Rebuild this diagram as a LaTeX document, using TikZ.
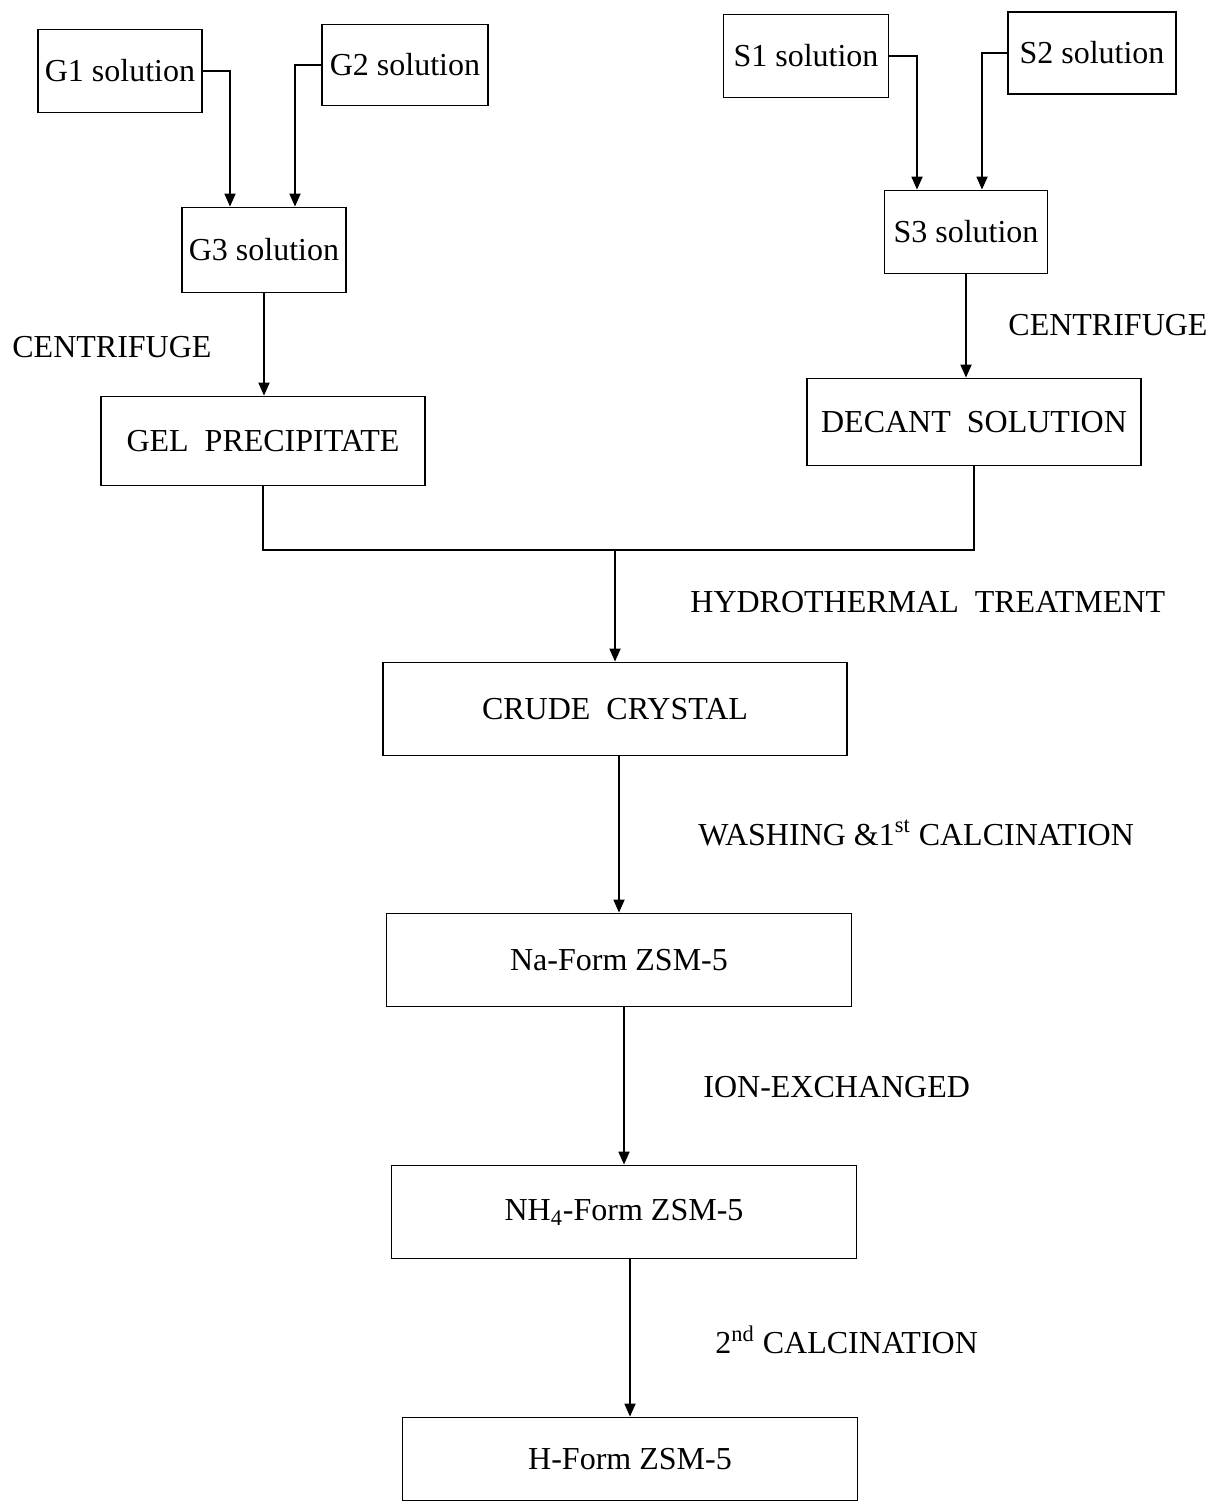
\documentclass[tikz,border=0pt]{standalone}
\usepackage{fontspec}
\setmainfont{Liberation Serif}
\usetikzlibrary{arrows.meta}

\tikzset{
  procbox/.style={draw, line width=0.9pt, inner sep=2pt, font=\fontsize{16}{19}\selectfont},
  steplabel/.style={anchor=west, inner sep=0pt, font=\fontsize{16}{19}\selectfont},
  flow/.style={line width=0.9pt, -{Triangle[length=6.5pt,width=5.5pt]}},
  link/.style={line width=0.9pt}
}

\begin{document}
\begin{tikzpicture}[x=0.5pt, y=-0.5pt]

\useasboundingbox (0,0) rectangle (1220,1503);

% Gel solutions
\node[procbox, minimum width=82pt, minimum height=41.5pt] (g1) at (120,71) {G1 solution};
\node[procbox, minimum width=83pt, minimum height=40.5pt] (g2) at (405,65) {G2 solution};
\node[procbox, minimum width=82pt, minimum height=42.5pt] (g3) at (264,250) {G3 solution};

% Seed solutions
\node[procbox, minimum width=82.5pt, minimum height=41.5pt] (s1) at (806,56) {S1 solution};
\node[procbox, minimum width=84pt, minimum height=41pt] (s2) at (1092,53) {S2 solution};
\node[procbox, minimum width=81.5pt, minimum height=41.5pt] (s3) at (966,232) {S3 solution};

% After centrifuge
\node[procbox, minimum width=162pt, minimum height=44.5pt] (gel) at (263,441) {GEL\ \ PRECIPITATE};
\node[procbox, minimum width=167pt, minimum height=43.5pt] (dec) at (974,422) {DECANT\ \ SOLUTION};

% Main line
\node[procbox, minimum width=232pt, minimum height=46.5pt] (crude) at (615,709) {CRUDE\ \ CRYSTAL};
\node[procbox, minimum width=232.5pt, minimum height=46.5pt] (na) at (619,960) {Na-Form ZSM-5};
\node[procbox, minimum width=232.5pt, minimum height=46.5pt] (nh) at (624,1212) {NH\textsubscript{4}-Form ZSM-5};
\node[procbox, minimum width=227.5pt, minimum height=41.5pt] (hf) at (630,1459) {H-Form ZSM-5};

% Mixing arrows
\draw[flow] (g1.east) -| ([xshift=-17pt]g3.north);
\draw[flow] (g2.west) -| ([xshift=15.5pt]g3.north);
\draw[flow] (s1.east) -| ([xshift=-24.5pt]s3.north);
\draw[flow] (s2.west) -| ([xshift=8pt]s3.north);

% Centrifuge
\draw[flow] (g3.south) -- (g3.south |- gel.north);
\draw[flow] (s3.south) -- (s3.south |- dec.north);

% Joining
\coordinate (join) at (615,550);
\draw[link] (gel.south) |- (join);
\draw[link] (dec.south) |- (join);
\draw[flow] (join) -- (crude.north);

% Following steps
\draw[flow] (na.north |- crude.south) -- (na.north);
\draw[flow] (nh.north |- na.south) -- (nh.north);
\draw[flow] (hf.north |- nh.south) -- (hf.north);

% Labels
\node[steplabel] (cenl) at (12,347) {CENTRIFUGE};
\node[steplabel] (cenr) at (1008,325) {CENTRIFUGE};
\node[steplabel] (hyd) at (690,602) {HYDROTHERMAL\ \ TREATMENT};
\node[steplabel] (wash) at (698,833) {WASHING \&1\textsuperscript{st} CALCINATION};
\node[steplabel] (ion) at (703,1087) {ION-EXCHANGED};
\node[steplabel] (calc) at (715,1340) {2\textsuperscript{nd} CALCINATION};

\end{tikzpicture}
\end{document}
